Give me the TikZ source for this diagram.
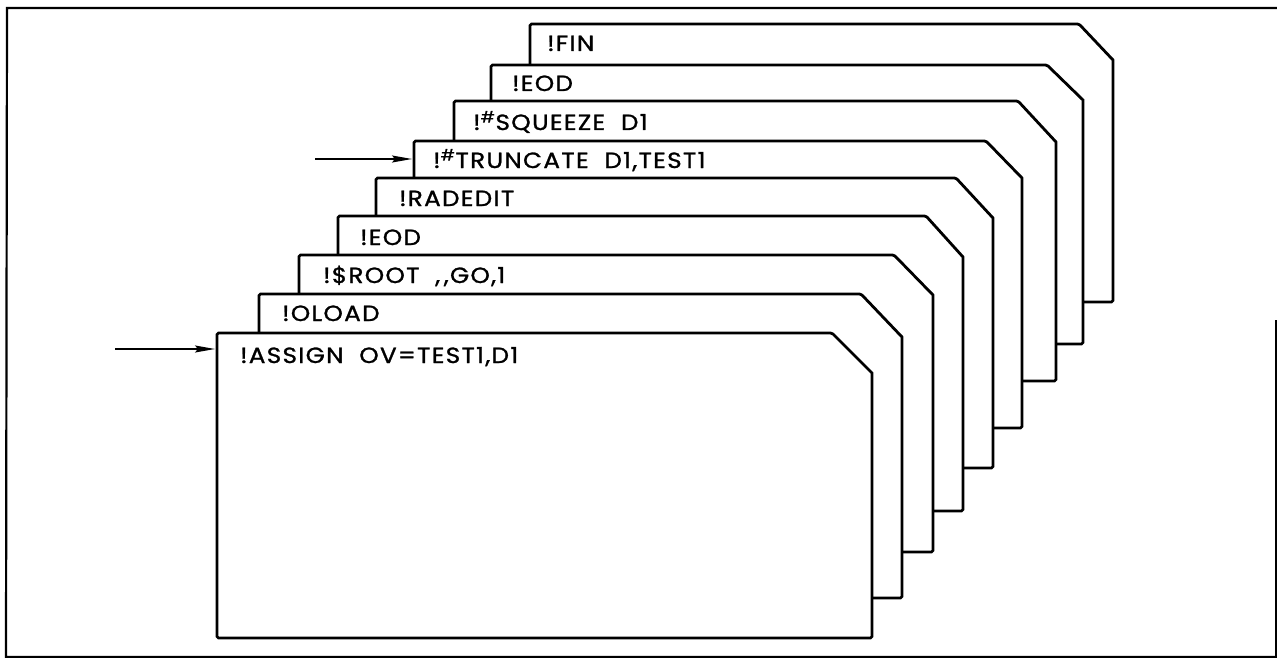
\documentclass[tikz,border=0pt]{standalone}
\usepackage{fontspec}
\setmainfont{Poppins}[FakeStretch=1.12, LetterSpace=6, FakeBold=1.2]
\usetikzlibrary{arrows.meta}
\tikzset{
  card/.style={draw=black, fill=white, line width=2.8pt, line join=miter, rounded corners=1.5pt},
  label/.style={anchor=base west, inner sep=0pt, font=\fontsize{22}{22}\selectfont},
  feed/.style={line width=1.4pt, -{Stealth[length=20pt,width=7pt,inset=3pt]}},
  frame/.style={line width=2.2pt, line cap=round}
}
\newcommand{\mycard}[7]{%
  % #1 name, #2 left, #3 top, #4 topend, #5 right, #6 diagy, #7 bottom
  \draw[card] (#2,#7) -- (#2,#3) -- (#4,#3) {[sharp corners] -- (#5,#6)} -- (#5,#7) -- cycle;
  \coordinate (#1) at (#2,#3);
}
\begin{document}
\begin{tikzpicture}[x=1pt,y=-1pt]
\useasboundingbox (0,0) rectangle (1277,658);
% frame
\draw[frame] (1277,8) -- (7,8) -- (6,657) -- (1277,657);
\draw[line width=1.6pt] (1276,320) -- (1276,657);
% cards back to front
\mycard{c9}{530}{24}{1079}{1113}{60}{302}
\node[label] (l9) at (547,51) {!FIN};
\mycard{c8}{491}{65}{1047}{1083}{100}{344}
\node[label] (l8) at (512,91) {!EOD};
\mycard{c7}{454}{101}{1018}{1056}{142}{381}
\node[label] (l7) at (473,130) {!\textsuperscript{\#}SQUEEZE\ \ D1};
\mycard{c6}{414}{141}{986}{1022}{178}{428}
\node[label] (l6) at (433,168) {!\textsuperscript{\#}TRUNCATE\ \ D1,TEST1};
\mycard{c5}{376}{178}{956}{993}{218}{468}
\node[label] (l5) at (399,206) {!RADEDIT};
\mycard{c4}{338}{216}{926}{963}{257}{511}
\node[label] (l4) at (360,245) {!EOD};
\mycard{c3}{299}{255}{894}{933}{295}{552}
\node[label] (l3) at (323,283) {!\$ROOT\ \ ,{}\,,{}GO,1};
\mycard{c2}{259}{294}{861}{902}{337}{598}
\node[label] (l2) at (282,321) {!OLOAD};
\mycard{c1}{217}{333}{832}{872}{373}{638}
\node[label] (l1) at (240,363) {!ASSIGN\ \ OV=TEST1,D1};
% arrows
\coordinate (s6) at (315,159);
\coordinate (e6) at (412,159);
\coordinate (s1) at (115,349);
\coordinate (e1) at (215,349);
\draw[feed] (s6) -- (e6);
\draw[feed] (s1) -- (e1);
\end{tikzpicture}
\end{document}
